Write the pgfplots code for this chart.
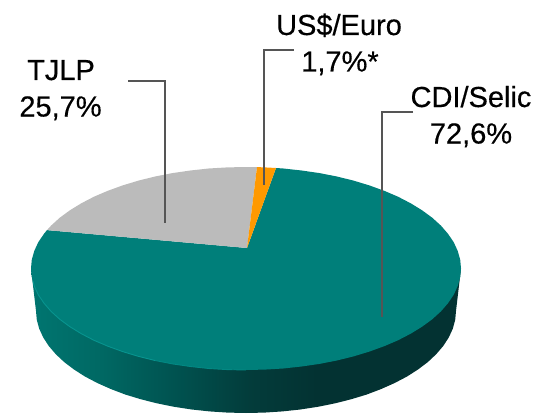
\documentclass[border=0pt]{standalone}
\usepackage{fontspec}
\setmainfont[FakeBold=0.4]{Liberation Sans}
\usepackage{pgfplots}
\pgfplotsset{compat=1.18}
\definecolor{topteal}{RGB}{0,127,122}
\definecolor{rimteal}{RGB}{8,148,143}
\definecolor{rimteal2}{RGB}{3,136,131}
\definecolor{pgrey}{RGB}{187,187,187}
\definecolor{porange}{RGB}{255,153,0}
\definecolor{leader}{RGB}{85,85,85}
\pgfdeclarehorizontalshading{sideshade}{100bp}{
  rgb(0bp)=(0,0.46,0.44);
  rgb(25bp)=(0,0.46,0.44);
  rgb(33bp)=(0,0.41,0.39);
  rgb(41bp)=(0,0.33,0.32);
  rgb(50.5bp)=(0.01,0.235,0.23);
  rgb(58.5bp)=(0.012,0.195,0.195);
  rgb(100bp)=(0.012,0.195,0.195)}
\begin{document}
\begin{tikzpicture}
\path[use as bounding box] (0,0) rectangle (537bp,414bp);
\begin{axis}[
  at={(0,0)}, anchor=south west,
  width=537bp, height=414bp, scale only axis,
  xmin=0, xmax=537, ymin=0, ymax=414, y dir=reverse,
  hide axis, clip=false, no markers,
  every axis plot/.append style={line join=round}
]
% side wall
\addplot[shade, shading=sideshade, draw=none] coordinates {
(31,268.5)(36,311)(36.8,319.9)(39.2,328.7)(43.2,337.4)(48.7,345.9)(55.7,354.1)(64.1,362)(74,369.5)(85.1,376.6)(97.5,383.1)(111,389.1)(125.5,394.6)(141,399.3)(157.3,403.4)(174.2,406.8)(191.7,409.5)(209.5,411.4)(227.7,412.6)(246,413)
(264.3,412.6)(282.5,411.4)(300.3,409.5)(317.8,406.8)(334.7,403.4)(351,399.3)(366.5,394.6)(381,389.1)(394.5,383.1)(406.9,376.6)(418,369.5)(427.9,362)(436.3,354.1)(443.3,345.9)(448.8,337.4)(452.8,328.7)(455.2,319.9)(456,311)(461,268.5)
(246,260)(31,268.5)};
% CDI/Selic top face
\addplot[fill=topteal, draw=none] coordinates {
(247,248)(276,168)(283.3,168.5)(301.6,170.5)(319.5,173.1)(336.9,176.5)(353.5,180.6)(369.3,185.4)(384.2,190.8)(398,196.7)(410.7,203.3)(422.1,210.3)(432.2,217.7)(440.9,225.6)(448,233.8)(453.7,242.2)(457.7,250.9)(460.2,259.6)(461,268.5)
(460.2,277.4)(457.7,286.1)(453.7,294.8)(448,303.2)(440.9,311.4)(432.2,319.3)(422.1,326.7)(410.7,333.7)(398,340.3)(384.2,346.2)(369.3,351.6)(353.5,356.4)(336.9,360.5)(319.5,363.9)(301.6,366.5)(283.3,368.5)(264.7,369.6)(246,370)
(227.3,369.6)(208.7,368.5)(190.4,366.5)(172.5,363.9)(155.1,360.5)(138.5,356.4)(122.7,351.6)(107.8,346.2)(94,340.3)(81.3,333.7)(69.9,326.7)(59.8,319.3)(51.1,311.4)(44,303.2)(38.3,294.8)(34.3,286.1)(31.8,277.4)(31,268.5)
(31.8,259.6)(34.3,250.9)(38.3,242.2)(44,233.8)(47,230.1)(247,248)};
% TJLP
\addplot[fill=pgrey, draw=none] coordinates {
(247,248)(47,230.1)(51.1,225.6)(59.8,217.7)(69.9,210.3)(81.3,203.3)(94,196.7)(107.8,190.8)(122.7,185.4)(138.5,180.6)(155.1,176.5)(172.5,173.1)(190.4,170.5)(208.7,168.5)(227.3,167.4)(246,167)(257,167.1)(247,248)};
% US$/Euro
\addplot[fill=porange, draw=none] coordinates {
(247,248)(257,167.1)(264.7,167.4)(276,168)(247,248)};
% rim highlight
\addplot[rimteal, line width=0.9bp] coordinates {
(33,281)(34.3,286.1)(38.3,294.8)(44,303.2)(51.1,311.4)(59.8,319.3)(69.9,326.7)(81.3,333.7)(94,340.3)(107.8,346.2)(122.7,351.6)(138.5,356.4)(155.1,360.5)};
\addplot[rimteal2, line width=0.9bp] coordinates {
(155.1,360.5)(172.5,363.9)(190.4,366.5)(208.7,368.5)(227.3,369.6)(246,370)};
% leaders
\addplot[leader, line width=2bp, line join=miter] coordinates {(128,81)(165,81)(165,223)};
\addplot[leader, line width=2bp, line join=miter] coordinates {(293.5,50)(264,50)(264,185)};
\addplot[leader, line width=2bp, line join=miter] coordinates {(413,112)(381.7,112)(381.7,317)};
% labels
\newcommand{\lab}{\fontsize{29bp}{34bp}\selectfont}
\node[anchor=base, inner sep=0pt] at (axis cs:61,80) {\lab TJLP};
\node[anchor=base, inner sep=0pt] at (axis cs:60.5,116.5) {\lab 25,7\%};
\node[anchor=base, inner sep=0pt] at (axis cs:339,35) {\lab US\$/Euro};
\node[anchor=base, inner sep=0pt] at (axis cs:340,71.5) {\lab 1,7\%*};
\node[anchor=base, inner sep=0pt] at (axis cs:471,107) {\lab CDI/Selic};
\node[anchor=base, inner sep=0pt] at (axis cs:471,143.5) {\lab 72,6\%};
\end{axis}
\end{tikzpicture}
\end{document}
